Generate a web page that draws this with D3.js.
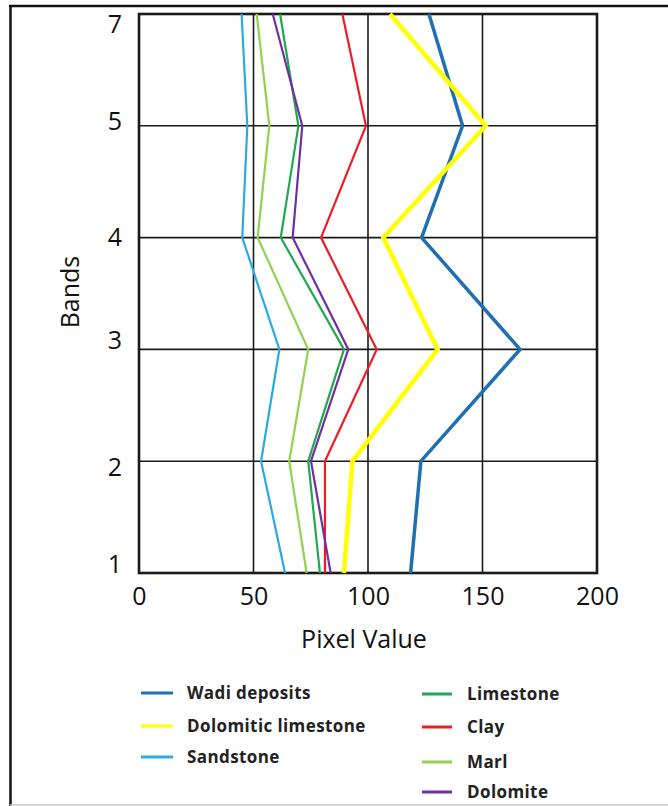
<!DOCTYPE html>
<html>
<head>
<meta charset="utf-8">
<script src="https://cdn.jsdelivr.net/npm/d3@7"></script>
<style>
html,body{margin:0;padding:0;background:#fff;}
svg{display:block;}
</style>
</head>
<body>
<svg id="chart" width="668" height="806"></svg>
<script>
const bands = ["1","2","3","4","5","7"];
const xTicks = [0, 50, 100, 150, 200];
const wadi        = [118.6, 123.1, 166.4, 123.4, 141.3, 126.6];
const dolLime     = [89.5, 93.2, 130.4, 106.7, 151.4, 109.6];
const sandstone   = [63.8, 53.3, 61.3, 45.1, 47.3, 44.8];
const limestone   = [79.0, 73.9, 89.5, 61.9, 69.6, 61.6];
const clay        = [81.2, 81.2, 103.8, 79.5, 99.1, 88.8];
const marl        = [73.2, 65.6, 73.9, 51.8, 56.9, 51.4];
const dolomite    = [83.7, 75.1, 91.4, 67.1, 71.3, 58.4];

const series = [
  {name:"Wadi deposits", values:wadi, color:"#1f6fb2", w:3.5},
  {name:"Dolomitic limestone", values:dolLime, color:"#ffff00", w:4.5},
  {name:"Sandstone", values:sandstone, color:"#29aae1", w:2.2},
  {name:"Limestone", values:limestone, color:"#1fa84f", w:2.2},
  {name:"Clay", values:clay, color:"#ee1c24", w:2.2},
  {name:"Marl", values:marl, color:"#92d050", w:2.2},
  {name:"Dolomite", values:dolomite, color:"#7030a0", w:2.2}
];
const legendOrder = [
  ["Wadi deposits","Dolomitic limestone","Sandstone"],
  ["Limestone","Clay","Marl","Dolomite"]
];

const svg = d3.select("#chart");
const L = 139, R = 597, T = 14, B = 573;
const x = d3.scaleLinear().domain([0,200]).range([L,R]);
const y = d3.scalePoint().domain(bands).range([B,T]);
// per-label vertical nudges of the band labels (layout only)
const bandLabelShift = {"1":-9, "2":6, "3":-9, "4":0, "5":-4, "7":10};

// outer frame
svg.append("line").attr("x1",9).attr("x2",668).attr("y1",6).attr("y2",6).attr("stroke","#111").attr("stroke-width",2.5);
svg.append("line").attr("x1",10.5).attr("x2",10.5).attr("y1",5).attr("y2",806).attr("stroke","#111").attr("stroke-width",2.5);
svg.append("line").attr("x1",10).attr("x2",668).attr("y1",805).attr("y2",805).attr("stroke","#c8c8c8").attr("stroke-width",1.5);

// grid
const g = svg.append("g");
g.selectAll(".vg").data(xTicks).join("line")
  .attr("x1",d=>x(d)).attr("x2",d=>x(d)).attr("y1",T).attr("y2",B)
  .attr("stroke","#1a1a1a").attr("stroke-width",1.6);
g.selectAll(".hg").data(bands).join("line")
  .attr("x1",L).attr("x2",R).attr("y1",d=>y(d)).attr("y2",d=>y(d))
  .attr("stroke","#1a1a1a").attr("stroke-width",1.6);
g.append("rect").attr("x",L).attr("y",T).attr("width",R-L).attr("height",B-T)
  .attr("fill","none").attr("stroke","#1a1a1a").attr("stroke-width",2.6);

// axes labels via d3 axes
const xAxis = svg.append("g").attr("transform",`translate(0,${B})`)
  .call(d3.axisBottom(x).tickValues(xTicks).tickSize(0).tickPadding(14));
xAxis.select(".domain").remove();
xAxis.selectAll("text").attr("font-family","Open Sans").attr("font-size",25).attr("fill","#111");

const yAxis = svg.append("g").attr("transform",`translate(${L},0)`)
  .call(d3.axisLeft(y).tickSize(0).tickPadding(17));
yAxis.select(".domain").remove();
yAxis.selectAll("text").attr("font-family","Open Sans").attr("font-size",25).attr("fill","#111")
  .attr("y", d=>bandLabelShift[d]);

svg.append("text").attr("x",364).attr("y",648).attr("text-anchor","middle")
  .attr("font-family","Open Sans").attr("font-size",25).attr("fill","#111").text("Pixel Value");
svg.append("text").attr("transform","translate(79,292) rotate(-90)").attr("text-anchor","middle")
  .attr("font-family","Open Sans").attr("font-size",25).attr("fill","#111").text("Bands");

// lines
const line = d3.line().x(d=>x(d.v)).y(d=>y(d.b));
series.forEach(s=>{
  svg.append("path")
    .datum(bands.map((b,i)=>({b, v:s.values[i]})))
    .attr("d",line).attr("fill","none").attr("stroke",s.color)
    .attr("stroke-width",s.w).attr("stroke-linejoin","miter");
});

// legend
const colX = [[141,173,187],[422,452,467]];
const rowY = [[693,726,757],[694,727,762,792]];
legendOrder.forEach((col,ci)=>{
  col.forEach((name,ri)=>{
    const s = series.find(d=>d.name===name);
    const yy = rowY[ci][ri];
    svg.append("line").attr("x1",colX[ci][0]).attr("x2",colX[ci][1]).attr("y1",yy).attr("y2",yy)
      .attr("stroke",s.color).attr("stroke-width",3);
    svg.append("text").attr("x",colX[ci][2]).attr("y",yy+6)
      .attr("font-family","Open Sans").attr("font-weight","bold").attr("font-size",17)
      .attr("letter-spacing",0.4).attr("fill","#222").text(name);
  });
});
</script>
</body>
</html>
